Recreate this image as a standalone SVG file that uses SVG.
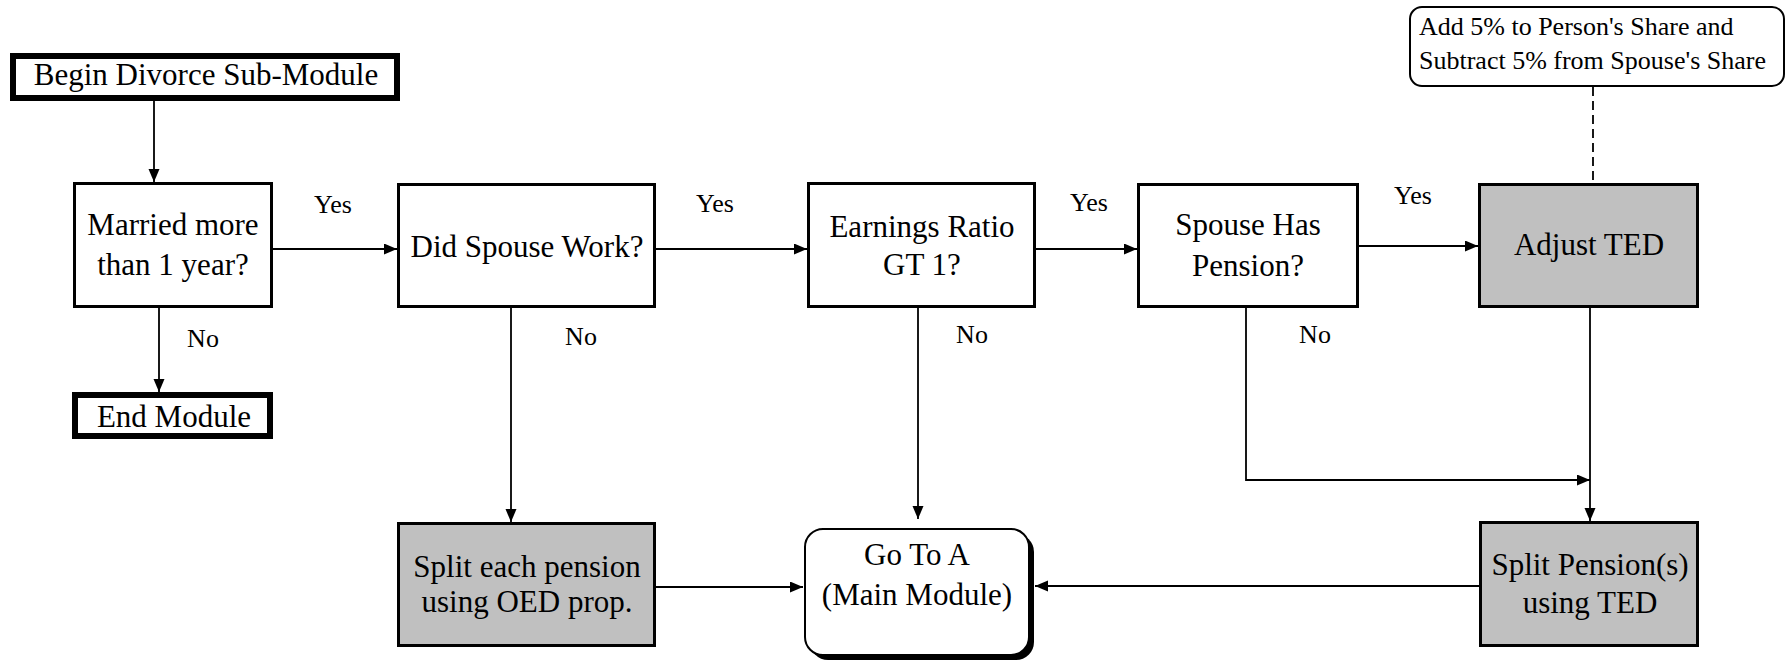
<svg xmlns="http://www.w3.org/2000/svg" width="1786" height="662" viewBox="0 0 1786 662">
<style>
  text { font-family: "Liberation Serif", "Times New Roman", serif; fill: #000; }
  .t { font-size: 31px; text-anchor: middle; }
  .lbl { font-size: 26px; text-anchor: middle; }
  .note { font-size: 26px; }
  .box { fill: #fff; stroke: #000; stroke-width: 3; }
  .gray { fill: #c0c0c0; stroke: #000; stroke-width: 3; }
  .term { fill: #fff; stroke: #000; stroke-width: 6; }
  .conn { fill: none; stroke: #000; stroke-width: 1.8; }
  .dash { fill: none; stroke: #000; stroke-width: 1.8; stroke-dasharray: 9 5; }
</style>
<defs>
  <marker id="arr" markerUnits="userSpaceOnUse" markerWidth="14" markerHeight="12" refX="13" refY="5.5" orient="auto">
    <path d="M0,0 L13,5.5 L0,11 z" fill="#000"/>
  </marker>
</defs>

<g id="connectors">
  <path class="conn" d="M154,101 L154,182" marker-end="url(#arr)"/>
  <path class="conn" d="M273,249 L397,249" marker-end="url(#arr)"/>
  <path class="conn" d="M159,308 L159,392" marker-end="url(#arr)"/>
  <path class="conn" d="M656,249 L807,249" marker-end="url(#arr)"/>
  <path class="conn" d="M511,308 L511,522" marker-end="url(#arr)"/>
  <path class="conn" d="M1036,249 L1137,249" marker-end="url(#arr)"/>
  <path class="conn" d="M918,308 L918,519" marker-end="url(#arr)"/>
  <path class="conn" d="M1359,246 L1478,246" marker-end="url(#arr)"/>
  <path class="conn" d="M1246,308 L1246,480 L1590,480" marker-end="url(#arr)"/>
  <path class="conn" d="M1590,308 L1590,521" marker-end="url(#arr)"/>
  <path class="conn" d="M1479,586 L1035,586" marker-end="url(#arr)"/>
  <path class="conn" d="M656,587 L803,587" marker-end="url(#arr)"/>
  <path class="dash" d="M1593,87 L1593,183"/>
  <text class="lbl" x="333" y="213">Yes</text>
  <text class="lbl" x="715" y="212">Yes</text>
  <text class="lbl" x="1089" y="211">Yes</text>
  <text class="lbl" x="1413" y="204">Yes</text>
  <text class="lbl" x="203" y="347">No</text>
  <text class="lbl" x="581" y="345">No</text>
  <text class="lbl" x="972" y="343">No</text>
  <text class="lbl" x="1315" y="343">No</text>
</g>

<g id="begin">
  <rect class="term" x="13" y="56" width="384" height="42"/>
  <text class="t" x="206" y="85">Begin Divorce Sub-Module</text>
</g>

<g id="married">
  <rect class="box" x="74.5" y="183.5" width="197" height="123"/>
  <text class="t" x="173" y="235">Married more</text>
  <text class="t" x="173" y="275">than 1 year?</text>
</g>

<g id="end">
  <rect class="term" x="75" y="395" width="195" height="41"/>
  <text class="t" x="174" y="427">End Module</text>
</g>

<g id="didSpouseWork">
  <rect class="box" x="398.5" y="184.5" width="256" height="122"/>
  <text class="t" x="527" y="257">Did Spouse Work?</text>
</g>

<g id="earnings">
  <rect class="box" x="808.5" y="183.5" width="226" height="123"/>
  <text class="t" x="922" y="237">Earnings Ratio</text>
  <text class="t" x="922" y="275">GT 1?</text>
</g>

<g id="spousePension">
  <rect class="box" x="1138.5" y="184.5" width="219" height="122"/>
  <text class="t" x="1248" y="235">Spouse Has</text>
  <text class="t" x="1248" y="276">Pension?</text>
</g>

<g id="adjustTED">
  <rect class="gray" x="1479.5" y="184.5" width="218" height="122"/>
  <text class="t" x="1589" y="255">Adjust TED</text>
</g>

<g id="note">
  <rect x="1410" y="7" width="374" height="79" rx="12" ry="12" fill="#fff" stroke="#000" stroke-width="2"/>
  <text class="note" x="1419" y="35">Add 5% to Person's Share and</text>
  <text class="note" x="1419" y="69">Subtract 5% from Spouse's Share</text>
</g>

<g id="splitEach">
  <rect class="gray" x="398.5" y="523.5" width="256" height="122"/>
  <text class="t" x="527" y="577">Split each pension</text>
  <text class="t" x="527" y="612">using OED prop.</text>
</g>

<g id="goToA">
  <rect x="810" y="534" width="224" height="126" rx="18" ry="18" fill="#000"/>
  <rect x="805" y="529" width="224" height="126" rx="18" ry="18" fill="#fff" stroke="#000" stroke-width="2"/>
  <text class="t" x="917" y="565">Go To A</text>
  <text class="t" x="917" y="605">(Main Module)</text>
</g>

<g id="splitPension">
  <rect class="gray" x="1480.5" y="522.5" width="217" height="123"/>
  <text class="t" x="1590" y="575">Split Pension(s)</text>
  <text class="t" x="1590" y="613">using TED</text>
</g>
</svg>
